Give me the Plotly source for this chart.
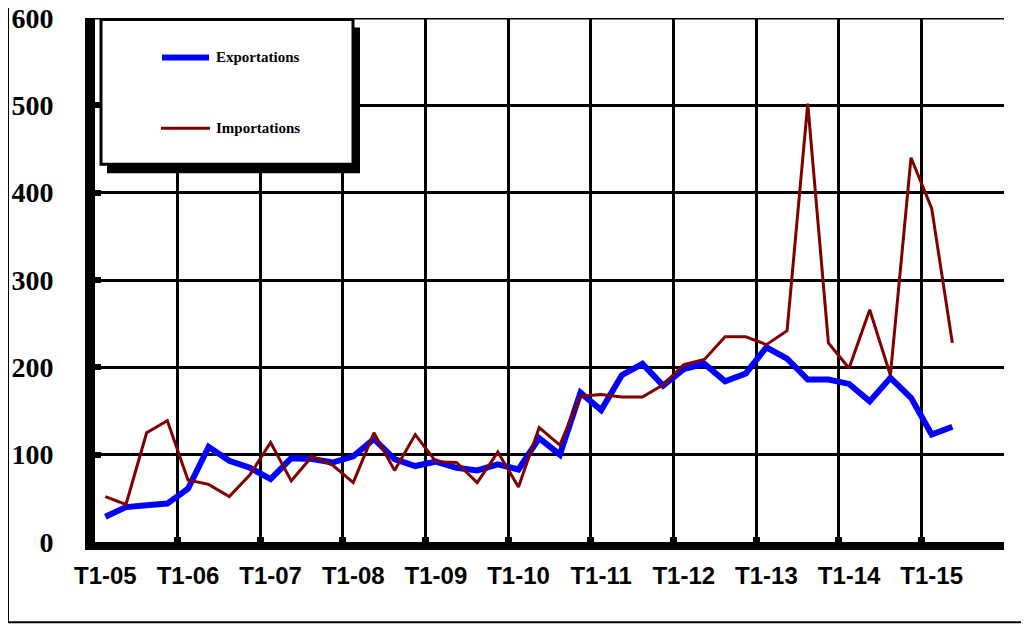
import plotly.graph_objects as go

# ── Data (quarterly, T1-05 .. T2-15) ──────────────────────────────────────────
quarters = [f"T{q}-{y:02d}" for y in range(5, 16) for q in range(1, 5)]

exportations = [
    29, 40, 42, 44, 61, 109, 93, 85, 72, 96, 95, 91,
    98, 118, 95, 87, 92, 85, 82, 89, 83, 119, 100, 171,
    151, 191, 204, 179, 198, 204, 184, 193, 223, 210, 186, 186,
    181, 161, 188, 165, 123, 132,
]
importations = [
    52, 43, 125, 139, 71, 66, 52, 77, 114, 70, 98, 88,
    68, 125, 82, 123, 92, 91, 68, 103, 63, 131, 111, 167,
    169, 166, 166, 180, 203, 209, 235, 235, 226, 242, 502, 228,
    199, 266, 191, 440, 382, 228,
]

y_ticks = [0, 100, 200, 300, 400, 500, 600]
label_every = 4

# ── Theme ─────────────────────────────────────────────────────────────────────
_BLUE = "#0000FF"
_RED = "#800000"
_BLACK = "#000000"

# page offset (body margin) so screen pixels map onto figure pixels
OFF = 8
W, H = 1029, 626
M_L, M_T = 95 - OFF, 17.5 - OFF
PW, PH = 909, 525
M_R, M_B = W - M_L - PW, H - M_T - PH


def px_x(p):
    return (p - OFF - M_L) / PW


def px_y(p):
    return (M_T + PH - (p - OFF)) / PH


x_idx = list(range(len(quarters)))
n_cat = len(quarters)

fig = go.Figure()

fig.add_trace(go.Scatter(
    x=x_idx[:len(exportations)], y=exportations,
    name="Exportations", mode="lines",
    line=dict(color=_BLUE, width=6),
    showlegend=False,
))
fig.add_trace(go.Scatter(
    x=x_idx[:len(importations)], y=importations,
    name="Importations", mode="lines",
    line=dict(color=_RED, width=3),
    showlegend=False,
))

# ── Legend box (drawn by hand to keep the Excel look) ─────────────────────────
shapes = [
    # top gridline (plotly drops the one on the range edge)
    dict(type="line", xref="paper", yref="y",
         x0=0, x1=1, y0=y_ticks[-1], y1=y_ticks[-1],
         line=dict(color=_BLACK, width=3), layer="below"),
    # shadow
    dict(type="rect", xref="paper", yref="paper",
         x0=px_x(107), x1=px_x(360), y0=px_y(173), y1=px_y(27),
         fillcolor=_BLACK, line=dict(width=0), layer="above"),
    # box
    dict(type="rect", xref="paper", yref="paper",
         x0=px_x(101), x1=px_x(353), y0=px_y(164), y1=px_y(19),
         fillcolor="white", line=dict(color=_BLACK, width=3), layer="above"),
    dict(type="line", xref="paper", yref="paper",
         x0=px_x(162), x1=px_x(209), y0=px_y(57), y1=px_y(57),
         line=dict(color=_BLUE, width=6), layer="above"),
    dict(type="line", xref="paper", yref="paper",
         x0=px_x(161), x1=px_x(210), y0=px_y(128), y1=px_y(128),
         line=dict(color=_RED, width=3), layer="above"),
    # outer frame of the picture
    dict(type="rect", xref="paper", yref="paper",
         x0=px_x(8), x1=px_x(1045), y0=px_y(623), y1=px_y(-10),
         line=dict(color=_BLACK, width=2), layer="below"),
]

legend_font = dict(family="Liberation Serif", size=15, color=_BLACK)
annotations = [
    dict(text="<b>Exportations</b>", xref="paper", yref="paper",
         x=px_x(214), y=px_y(57), xanchor="left", yanchor="middle",
         showarrow=False, font=legend_font),
    dict(text="<b>Importations</b>", xref="paper", yref="paper",
         x=px_x(214), y=px_y(128), xanchor="left", yanchor="middle",
         showarrow=False, font=legend_font),
]

tick_pos = x_idx[::label_every]
tick_txt = [f"<b>{quarters[i]}</b>" for i in tick_pos]
grid_pos = [i - 0.5 for i in range(label_every, n_cat + 1, label_every)]

fig.update_layout(
    width=W, height=H,
    margin=dict(l=M_L, r=M_R, t=M_T, b=M_B, autoexpand=False),
    plot_bgcolor="white",
    paper_bgcolor="white",
    showlegend=False,
    shapes=shapes,
    annotations=annotations,
    xaxis=dict(
        range=[-0.5, n_cat - 0.5],
        tickmode="array", tickvals=tick_pos, ticktext=tick_txt,
        showgrid=False, zeroline=False,
        showline=True, linecolor=_BLACK, linewidth=8,
        ticks="", ticklabelstandoff=5,
        tickfont=dict(family="Liberation Sans", size=24, color=_BLACK),
    ),
    xaxis2=dict(
        overlaying="x", anchor="y", side="bottom",
        range=[-0.5, n_cat - 0.5],
        tickmode="array", tickvals=grid_pos,
        showticklabels=False,
        showgrid=True, gridcolor=_BLACK, gridwidth=3,
        ticks="inside", ticklen=5, tickwidth=7, tickcolor=_BLACK,
        zeroline=False, showline=False,
    ),
    yaxis=dict(
        range=[0, 600],
        tickmode="array", tickvals=y_ticks,
        ticktext=[f"<b>{v}</b>" for v in y_ticks],
        showgrid=True, gridcolor=_BLACK, gridwidth=3,
        zeroline=False,
        showline=True, linecolor=_BLACK, linewidth=10,
        ticks="inside", ticklen=6, tickwidth=6, tickcolor=_BLACK,
        ticklabelstandoff=26, ticklabeloverflow="allow",
        tickfont=dict(family="Liberation Serif", size=28, color=_BLACK),
    ),
)

# empty trace on the overlay axis so its grid gets drawn
fig.add_trace(go.Scatter(x=[None], y=[None], xaxis="x2", showlegend=False,
                         hoverinfo="skip"))

fig.write_html("out.html")
